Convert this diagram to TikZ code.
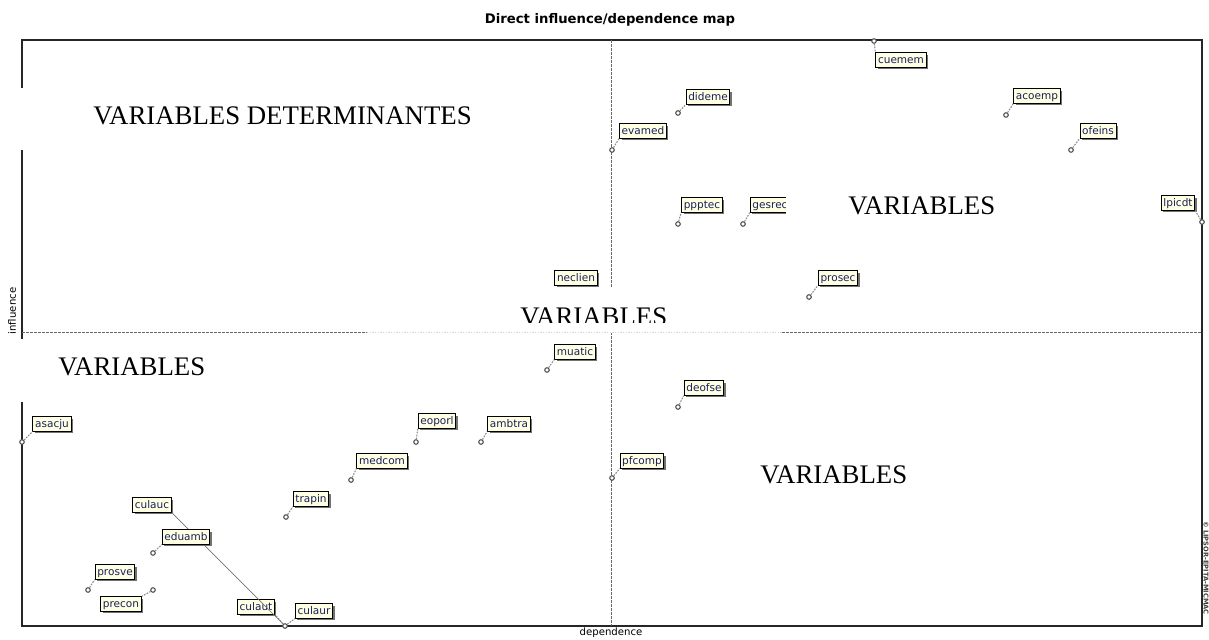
\documentclass[tikz,border=0pt]{standalone}
\usepackage{fontspec}
\setmainfont{Liberation Serif}
\setsansfont{DejaVu Sans}
\usetikzlibrary{shadows}
\definecolor{lblfill}{HTML}{FFFFE4}
\definecolor{lbltext}{HTML}{1A1F5C}
\tikzset{
  varlbl/.style={draw=black, line width=0.75pt, fill=lblfill, text=lbltext,
    font=\sffamily\fontsize{7.9}{8}\selectfont, inner xsep=1.6pt, inner ysep=1.3pt,
    text height=6.4pt, text depth=1.6pt,
    drop shadow={shadow xshift=1.5pt, shadow yshift=-1.5pt, fill=black!55, opacity=1}},
  varpt/.style={circle, draw=black!70, fill=white, line width=0.8pt, inner sep=0pt, minimum size=3.4pt},
  leader/.style={draw=black!45, line width=0.8pt, dash pattern=on 1.3pt off 0.9pt},
  solidleader/.style={draw=black!55, line width=0.5pt},
  midline/.style={draw=black!60, line width=0.5pt, dash pattern=on 2pt off 1pt},
  quadtext/.style={font=\fontsize{20.1}{21}\selectfont, inner sep=0pt},
  axisname/.style={font=\sffamily\fontsize{7.6}{8}\selectfont},
  cover/.style={fill=white, draw=none}
}
\begin{document}
\begin{tikzpicture}[x=0.75pt, y=-0.75pt]
\useasboundingbox (0,0) rectangle (1209,639);
\fill[white] (0,0) rectangle (1209,639);

% title and axis names
\node[font=\sffamily\bfseries\fontsize{9.9}{10}\selectfont] (title) at (610,20) {Direct influence/dependence map};
\node[axisname] (xname) at (611,633) {dependence};
\node[axisname, rotate=90] (yname) at (12,311) {influence};
\node[font=\sffamily\bfseries\fontsize{5}{5}\selectfont, rotate=-90, text=black!75] (mark) at (1206,568) {© LIPSOR-EPITA-MICMAC};

% plotting frame and quadrant separators
\coordinate (fnw) at (22,40);
\coordinate (fse) at (1202,626);
\draw[line width=0.9pt, black!85] (fnw) rectangle (fse);
\coordinate (vtop) at (611,40);
\coordinate (vbot) at (611,626);
\coordinate (hl) at (22,332);
\coordinate (hr) at (1202,332);
\draw[midline] (vtop) -- (vbot);
\draw[midline] (hl) -- (hr);

% variable positions
\node[varpt] (p-cuemem) at (874,41) {};
\node[varpt] (p-dideme) at (678,113) {};
\node[varpt] (p-evamed) at (612,150) {};
\node[varpt] (p-acoemp) at (1006,115) {};
\node[varpt] (p-ofeins) at (1071,150) {};
\node[varpt] (p-ppptec) at (678,224) {};
\node[varpt] (p-gesrec) at (743,224) {};
\node[varpt] (p-lpicdt) at (1202,222) {};
\node[varpt] (p-neclien) at (548,298) {};
\node[varpt] (p-prosec) at (809,297) {};
\node[varpt] (p-muatic) at (547,370) {};
\node[varpt] (p-deofse) at (678,407) {};
\node[varpt] (p-asacju) at (22,442) {};
\node[varpt] (p-eoporl) at (416,442) {};
\node[varpt] (p-ambtra) at (481,442) {};
\node[varpt] (p-medcom) at (351,480) {};
\node[varpt] (p-pfcomp) at (612,478) {};
\node[varpt] (p-trapin) at (286,517) {};
\node[varpt] (p-eduamb) at (153,553) {};
\node[varpt] (p-prosve) at (88,590) {};
\node[varpt] (p-precon) at (153,590) {};
\node[varpt] (p-culaut) at (285,626) {};

% variable labels
\node[varlbl] (cuemem) at (901,60) {cuemem};
\node[varlbl] (dideme) at (708,97) {dideme};
\node[varlbl] (evamed) at (643,131) {evamed};
\node[varlbl] (acoemp) at (1037,96) {acoemp};
\node[varlbl] (ofeins) at (1098,131) {ofeins};
\node[varlbl] (ppptec) at (702,205) {ppptec};
\node[varlbl] (gesrec) at (770,205) {gesrec};
\node[varlbl] (lpicdt) at (1178,203) {lpicdt};
\node[varlbl] (neclien) at (576,278) {neclien};
\node[varlbl] (prosec) at (838,278) {prosec};
\node[varlbl] (muatic) at (575,352) {muatic};
\node[varlbl] (deofse) at (704,388) {deofse};
\node[varlbl] (asacju) at (52,424) {asacju};
\node[varlbl] (eoporl) at (437,421) {eoporl};
\node[varlbl] (ambtra) at (509,424) {ambtra};
\node[varlbl] (medcom) at (382,461) {medcom};
\node[varlbl] (pfcomp) at (642,461) {pfcomp};
\node[varlbl] (trapin) at (311,499) {trapin};
\node[varlbl] (culauc) at (152,505) {culauc};
\node[varlbl] (prosve) at (115,572) {prosve};
\node[varlbl] (precon) at (121,604) {precon};
\node[varlbl] (culaut) at (256,607) {culaut};
\node[varlbl] (culaur) at (314,611) {culaur};

% leader lines from positions to labels
\draw[leader] (p-cuemem) -- (cuemem.north west);
\draw[leader] (p-dideme) -- (dideme.south west);
\draw[leader] (p-evamed) -- (evamed.south west);
\draw[leader] (p-acoemp) -- (acoemp.south west);
\draw[leader] (p-ofeins) -- (ofeins.south west);
\draw[leader] (p-ppptec) -- (ppptec.south west);
\draw[leader] (p-gesrec) -- (gesrec.south west);
\draw[leader] (p-lpicdt) -- (lpicdt.south east);
\draw[leader] (p-prosec) -- (prosec.south west);
\draw[leader] (p-muatic) -- (muatic.south west);
\draw[leader] (p-deofse) -- (deofse.south west);
\draw[leader] (p-asacju) -- (asacju.south west);
\draw[leader] (p-eoporl) -- (eoporl.south west);
\draw[leader] (p-ambtra) -- (ambtra.south west);
\draw[leader] (p-medcom) -- (medcom.south west);
\draw[leader] (p-pfcomp) -- (pfcomp.south west);
\draw[leader] (p-trapin) -- (trapin.south west);
\draw[leader] (p-prosve) -- (prosve.south west);
\draw[leader] (p-precon) -- (precon.north east);
\draw[leader] (p-culaut) -- (culaut.south east);
\draw[leader] (p-culaut) -- (culaur.south west);
\draw[solidleader] (culauc.south east) -- (p-culaut);

% eduamb sits over the culauc leader
\node[varlbl] (eduamb) at (186,537) {eduamb};
\draw[leader] (p-eduamb) -- (eduamb.south west);

% quadrant captions on white panels
\fill[cover] (14,88) rectangle (480,150);
\node[quadtext, anchor=base west] (qdet) at (93,124) {VARIABLES DETERMINANTES};

\fill[cover] (786,186) rectangle (1050,232);
\node[quadtext, anchor=base west] (qtop) at (848,214) {VARIABLES};

\fill[cover] (14,339) rectangle (216,402);
\node[quadtext, anchor=base west] (qleft) at (58,375) {VARIABLES};

\fill[cover] (367,287) rectangle (782,333);
\draw[draw=black!15, line width=0.4pt, dash pattern=on 1pt off 1pt] (367,332) -- (782,332);
\begin{scope}
\clip (367,287) rectangle (782,322.5);
\node[quadtext, anchor=base west] (qmid) at (520,325) {VARIABLES};
\end{scope}

\node[quadtext, anchor=base west] (qright) at (760,483) {VARIABLES};
\end{tikzpicture}
\end{document}
